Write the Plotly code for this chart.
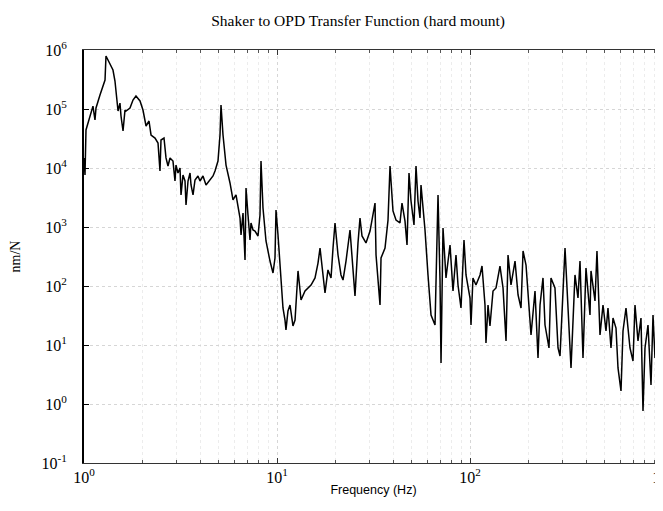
import plotly.graph_objects as go

# Frequency (Hz) and magnitude (nm/N)
freq_hz = [
    1.000, 1.012, 1.024, 1.049, 1.074, 1.113, 1.140, 1.154, 1.210, 1.254,
    1.285, 1.300, 1.332, 1.364, 1.413, 1.447, 1.501, 1.536, 1.555, 1.593,
    1.631, 1.651, 1.731, 1.794, 1.859, 1.951, 2.021, 2.096, 2.172, 2.225,
    2.333, 2.418, 2.476, 2.506, 2.597, 2.660, 2.724, 2.790, 2.891, 2.961,
    2.997, 3.069, 3.144, 3.182, 3.258, 3.337, 3.377, 3.459, 3.543, 3.585,
    3.672, 3.760, 3.896, 3.990, 4.136, 4.287, 4.497, 4.661, 4.773, 4.946,
    5.066, 5.127, 5.251, 5.443, 5.708, 5.916, 6.133, 6.281, 6.433, 6.510,
    6.667, 6.828, 6.910, 7.075, 7.246, 7.333, 7.510, 7.691, 7.972, 8.164,
    8.262, 8.461, 8.770, 9.199, 9.535, 9.763, 9.881, 10.12, 10.36, 10.49,
    10.74, 11.00, 11.13, 11.40, 11.68, 12.10, 12.40, 12.85, 13.32, 13.97,
    14.48, 15.01, 15.74, 16.31, 16.71, 17.31, 17.73, 18.37, 19.05, 19.51,
    19.98, 20.71, 21.46, 21.98, 22.78, 23.89, 24.76, 25.36, 26.28, 26.92,
    27.57, 28.91, 30.34, 32.20, 32.59, 33.37, 34.18, 34.59, 36.28, 37.60,
    38.51, 39.90, 41.36, 43.37, 44.43, 46.05, 47.17, 48.30, 49.47, 51.27,
    52.51, 53.78, 55.07, 55.73, 58.46, 60.59, 62.06, 62.81, 65.88, 68.28,
    69.93, 70.77, 72.47, 75.10, 78.78, 81.64, 84.62, 86.66, 89.82, 93.09,
    95.35, 100.0, 101.2, 103.6, 107.4, 112.7, 115.4, 119.6, 121.0, 124.0,
    126.9, 131.6, 136.4, 143.0, 148.3, 153.7, 157.4, 163.1, 171.1, 177.4,
    183.8, 188.3, 195.1, 204.6, 207.1, 217.2, 225.1, 230.6, 238.9, 244.7,
    256.6, 262.8, 275.6, 285.8, 292.7, 303.4, 310.7, 322.0, 333.7, 349.9,
    362.7, 371.5, 385.0, 399.0, 418.5, 423.6, 444.3, 454.9, 471.6, 488.8,
    506.6, 518.8, 537.7, 550.7, 570.8, 584.6, 605.9, 620.5, 643.1, 674.5,
    699.2, 716.0, 742.1, 769.1, 787.7, 806.6, 836.1, 866.6, 887.6, 908.8,
    930.7,
]

magnitude_nm_per_n = [
    1.48e4, 7.61e3, 4.41e4, 5.79e4, 7.04e4, 1.12e5, 6.51e4, 1.04e5, 1.73e5, 2.45e5,
    3.10e5, 7.91e5, 6.77e5, 6.02e5, 4.58e5, 2.98e5, 9.25e4, 1.26e5, 7.61e4, 4.24e4,
    9.62e4, 9.25e4, 1.04e5, 1.42e5, 1.66e5, 1.37e5, 9.62e4, 5.15e4, 6.26e4, 3.63e4,
    3.22e4, 2.65e4, 8.90e3, 2.98e4, 3.22e4, 1.48e4, 1.08e4, 1.48e4, 1.31e4, 6.02e3,
    1.12e4, 8.23e3, 1.00e4, 3.49e3, 7.61e3, 6.02e3, 2.36e3, 6.02e3, 8.23e3, 5.15e3,
    3.49e3, 6.26e3, 7.32e3, 6.02e3, 7.32e3, 5.15e3, 6.26e3, 7.32e3, 8.90e3, 1.31e4,
    3.63e4, 1.17e5, 3.63e4, 1.12e4, 5.57e3, 2.87e3, 3.49e3, 2.10e3, 1.42e3, 732,
    1.73e3, 276, 4.58e3, 1.60e3, 602, 1.17e3, 890, 855, 704, 1.60e3,
    1.31e4, 2.10e3, 579, 265, 166, 298, 1.94e3, 732, 202, 104,
    42.4, 26.5, 18.0, 37.7, 47.6, 21.0, 26.5, 180, 57.9, 82.3,
    92.5, 104, 137, 245, 441, 148, 76.1, 187, 137, 441,
    1.17e3, 335, 154, 126, 265, 890, 180, 67.7, 536, 1.42e3,
    704, 536, 855, 2.55e3, 335, 137, 47.6, 298, 441, 1.31e3,
    1.08e4, 1.87e3, 1.31e3, 1.17e3, 2.55e3, 1.26e3, 495, 8.23e3, 2.76e3, 1.08e3,
    1.08e4, 2.76e3, 1.42e3, 5.15e3, 890, 154, 55.7, 32.2, 21.8, 3.49e3,
    122, 4.95, 962, 137, 495, 82.3, 335, 104, 42.4, 602,
    154, 62.6, 21.8, 137, 104, 154, 218, 47.6, 10.8, 47.6,
    21.0, 82.3, 92.5, 218, 92.5, 11.7, 335, 104, 265, 70.4,
    42.4, 392, 227, 21.8, 14.8, 82.3, 6.02, 47.6, 137, 21.8,
    8.90, 137, 92.5, 8.90, 6.51, 82.3, 441, 42.4, 4.08, 154,
    62.6, 265, 6.02, 202, 32.2, 180, 55.7, 392, 14.8, 47.6,
    17.3, 42.4, 8.90, 28.7, 19.4, 4.08, 1.66, 17.3, 42.4, 8.90,
    5.36, 47.6, 11.7, 28.7, 0.761, 8.90, 21.8, 2.10, 32.2, 6.02,
    10.8,
]

x_tick_vals = [1, 10, 100, 1000]
x_tick_text = ["10<sup>0</sup>", "10<sup>1</sup>", "10<sup>2</sup>", "10<sup>3</sup>"]
y_tick_vals = [0.1, 1, 10, 100, 1000, 1e4, 1e5, 1e6]
y_tick_text = ["10<sup>-1</sup>", "10<sup>0</sup>", "10<sup>1</sup>", "10<sup>2</sup>",
               "10<sup>3</sup>", "10<sup>4</sup>", "10<sup>5</sup>", "10<sup>6</sup>"]

title_text = "Shaker to OPD Transfer Function (hard mount)"
x_title = "Frequency (Hz)"
y_title = "nm/N"

serif = "Liberation Serif, Times New Roman, serif"
sans = "Liberation Sans, Arial, sans-serif"

fig = go.Figure()
fig.add_trace(go.Scatter(
    x=freq_hz, y=magnitude_nm_per_n, mode="lines",
    line=dict(color="black", width=1.5),
    showlegend=False,
))

fig.update_layout(
    width=663, height=511,
    margin=dict(l=76, r=8, t=42, b=56),
    paper_bgcolor="white", plot_bgcolor="white",
    title=dict(text=title_text, x=0.528, xanchor="center", y=1 - 13 / 511,
               yanchor="middle", yref="container",
               font=dict(family=serif, size=15.5, color="black")),
)

fig.update_xaxes(
    type="log", range=[0, 3], automargin=False,
    showline=True, linecolor="#333", linewidth=1, mirror="ticks",
    ticks="inside", ticklen=5, tickcolor="#333",
    tickvals=x_tick_vals, ticktext=x_tick_text,
    ticklabeloverflow="allow",
    tickfont=dict(family=serif, size=16, color="black"),
    showgrid=True, gridcolor="#d6d6d6", griddash="dot", gridwidth=1,
    minor=dict(dtick="D1", ticks="inside", ticklen=3, tickcolor="#555",
               showgrid=True, gridcolor="#ececec", griddash="dot"),
    title=dict(text=x_title, font=dict(family=sans, size=12.5, color="black"),
               standoff=0),
)

fig.update_yaxes(
    type="log", range=[-1, 6], automargin=False,
    showline=True, linecolor="black", linewidth=2, mirror="ticks",
    ticks="inside", ticklen=5, tickcolor="black",
    tickvals=y_tick_vals, ticktext=y_tick_text,
    ticklabelstandoff=12,
    tickfont=dict(family=serif, size=16, color="black"),
    showgrid=True, gridcolor="#d6d6d6", griddash="dot", gridwidth=1,
    title=dict(text=y_title, font=dict(family=serif, size=14, color="black"),
               standoff=22),
)

fig.write_html("out.html")
